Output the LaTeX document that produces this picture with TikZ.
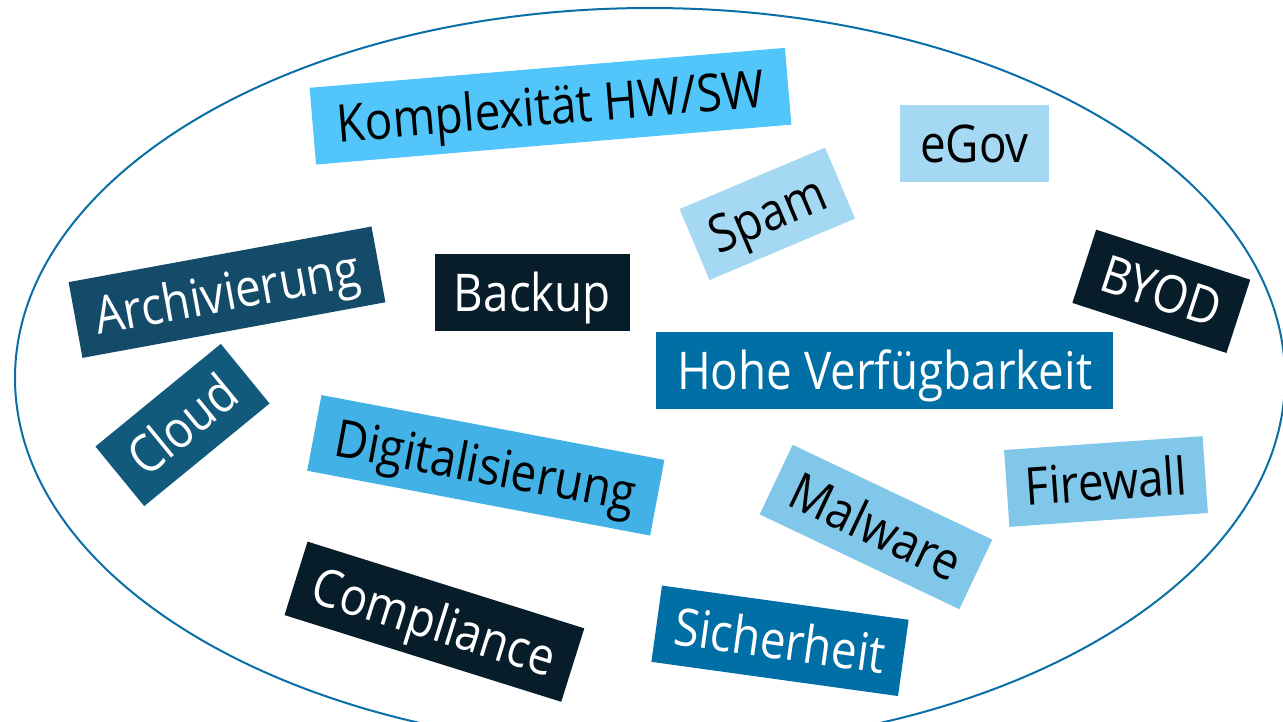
\documentclass[tikz,border=0pt]{standalone}
\usepackage{fontspec}
\newfontfamily\wf[FakeStretch=0.88]{Open Sans}
\definecolor{cKomp}{HTML}{52C6FB}
\definecolor{cPale}{HTML}{A5D9F3}
\definecolor{cDigi}{HTML}{42B1E6}
\definecolor{cMal}{HTML}{81C7EA}
\definecolor{cMid}{HTML}{006FA6}
\definecolor{cArch}{HTML}{134B69}
\definecolor{cCloud}{HTML}{115A7B}
\definecolor{cDark}{HTML}{071D29}
\definecolor{cLine}{HTML}{0A6FA6}
\tikzset{
  wbox/.style={inner sep=0pt, text height=37pt, text depth=0pt,
    font=\wf\fontsize{52}{62}\selectfont, minimum height=77pt, anchor=center},
  lightbox/.style={wbox, text=black},
  darkbox/.style={wbox, text=white}
}
\begin{document}
\begin{tikzpicture}[x=1pt,y=-1pt]
\useasboundingbox (0,0) rectangle (1283,721);
\clip (0,0) rectangle (1283,721);
\fill[white] (0,0) rectangle (1283,721);
\draw[cLine, line width=2pt] (650,378) ellipse [x radius=635, y radius=370];

\node[lightbox, fill=cKomp, minimum width=477pt, rotate=4.8] (komp) at (550.5,106.2) {Komplexität HW/SW};
\node[lightbox, fill=cPale, minimum width=149pt] (egov) at (974.5,143.7) {eGov};
\node[lightbox, fill=cPale, minimum width=158pt, rotate=22.9] (spam) at (767.3,213.8) {Spam};
\node[darkbox, fill=cArch, minimum width=308pt, rotate=10.4] (arch) at (227,292.2) {Archivierung};
\node[darkbox, fill=cDark, minimum width=195pt] (backup) at (532.5,292.5) {Backup};
\node[darkbox, fill=cDark, minimum width=162pt, rotate=-18] (byod) at (1161.3,291.3) {BYOD};
\node[darkbox, fill=cMid, minimum width=457pt] (hohe) at (884.7,370.5) {Hohe Verfügbarkeit};
\node[darkbox, fill=cCloud, minimum width=162pt, rotate=39.3] (cloud) at (182.5,425) {Cloud};
\node[lightbox, fill=cDigi, minimum width=349pt, rotate=-10.7] (digi) at (485.8,465.3) {Digitalisierung};
\node[lightbox, fill=cMal, minimum width=221pt, rotate=-25.4] (mal) at (876,527) {Malware};
\node[lightbox, fill=cMal, minimum width=199pt, rotate=4.0] (fire) at (1106,481.5) {Firewall};
\node[darkbox, fill=cDark, minimum width=290pt, rotate=-17.4] (comp) at (434.4,621.7) {Compliance};
\node[darkbox, fill=cMid, minimum width=249pt, rotate=-7.9] (sich) at (780,640.8) {Sicherheit};
\end{tikzpicture}
\end{document}
